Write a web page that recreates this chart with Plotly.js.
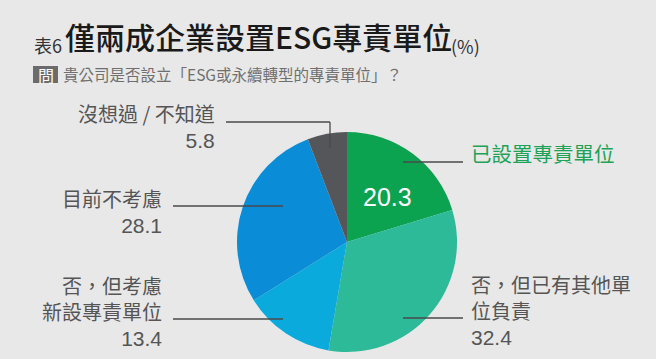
<!DOCTYPE html>
<html><head><meta charset="utf-8">
<script src="https://cdn.plot.ly/plotly-3.0.1.min.js"></script>
<style>html,body{margin:0;padding:0;background:#e8e8e8;}</style>
</head><body><div id="chart" style="width:656px;height:359px;"></div>
<script>
const categories = ["已設置專責單位", "否，但已有其他單<br>位負責", "否，但考慮<br>新設專責單位", "目前不考慮", "沒想過 / 不知道"];
const values = [20.3, 32.4, 13.4, 28.1, 5.8];
const colors = ["#0ba350", "#2dba98", "#0aaadc", "#0b8cd6", "#555659"];

const W = 656, H = 359;
const cx = 347, cy = 242, r = 110;
const px = x => x / W, py = y => 1 - y / H;
const font = "Liberation Sans, Arial, Noto Sans CJK TC, sans-serif";
const cjk = "Noto Sans CJK TC, Liberation Sans, sans-serif";

const trace = {
  type: "pie", values: values, labels: categories, marker: {colors: colors, line: {width: 0}},
  sort: false, direction: "clockwise", rotation: 0, textinfo: "none", hoverinfo: "label+value",
  domain: {x: [px(cx - r), px(cx + r)], y: [py(cy + r), py(cy - r)]}, showlegend: false
};

const ann = [];
function A(x, y, text, size, color, anchor, fam) {
  ann.push({xref: "paper", yref: "paper", x: px(x), y: py(y), text: text, showarrow: false,
    xanchor: anchor, yanchor: "middle", font: {size: size, color: color, family: fam || cjk, lineheight: 1}, align: anchor});
}
const num = v => `<span style="font-family:'Liberation Sans',Arial,sans-serif;font-size:21px">${v}</span>`;
// Titles
A(32, 45, "表6", 18, "#333", "left");
ann.push({xref: "paper", yref: "paper", x: px(63), y: py(36), text: "僅兩成企業設置ESG專責單位", showarrow: false,
  xanchor: "left", yanchor: "middle", font: {size: 30, color: "#1a1a1a", family: cjk, weight: 500}});
A(449, 46, "(%)", 18, "#333", "left");
A(45.5, 75, "問", 16, "#ffffff", "center");
A(61, 74, "貴公司是否設立「ESG或永續轉型的專責單位」？", 15.5, "#6f6f6f", "left");
// Slice labels (label + value in one text block)
const lg = "#555555";
A(217, 125.5, categories[4] + "<br>" + num(values[4]), 20, lg, "right");
A(164, 210, categories[3] + "<br>" + num(values[3]), 20, lg, "right");
A(164, 310, categories[2] + "<br>" + num(values[2]), 20, lg, "right");
A(469, 153, categories[0], 20.5, "#1da257", "left");
A(387, 197, String(values[0]), 25, "#ffffff", "center", font);
A(469, 309, categories[1] + "<br>" + num(values[1]), 20, lg, "left");

const L = (x0, y0, x1, y1) => ({type: "line", xref: "paper", yref: "paper", x0: px(x0), y0: py(y0), x1: px(x1), y1: py(y1), line: {color: "#4a4a4a", width: 1.3}});
const shapes = [
  {type: "rect", xref: "paper", yref: "paper", x0: px(33), x1: px(58), y0: py(83), y1: py(66), fillcolor: "#6b6b6b", line: {width: 0}, layer: "below"},
  L(226, 122, 330, 122), L(330, 122, 330, 148),
  L(173, 206, 283, 206),
  L(173, 319, 283, 319),
  L(403, 162, 463, 162),
  L(403, 318, 463, 318)
];

Plotly.newPlot("chart", [trace], {
  width: W, height: H, margin: {l: 0, r: 0, t: 0, b: 0},
  paper_bgcolor: "#e8e8e8", plot_bgcolor: "#e8e8e8",
  annotations: ann, shapes: shapes
}, {displayModeBar: false, staticPlot: true});
</script></body></html>
